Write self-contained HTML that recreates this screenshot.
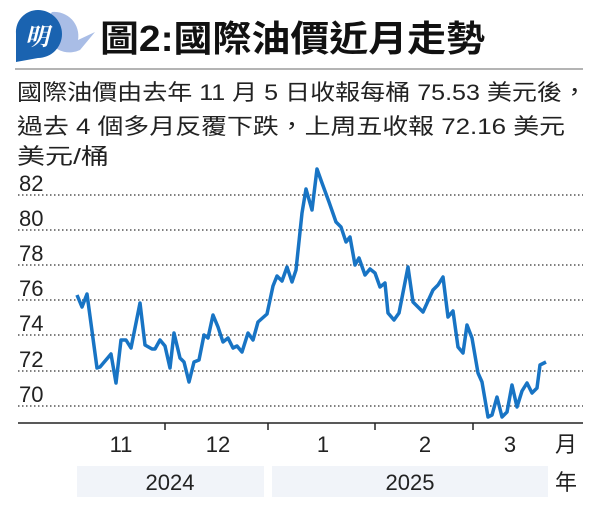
<!DOCTYPE html>
<html><head><meta charset="utf-8"><style>
body{margin:0;background:#fff;width:600px;height:507px;overflow:hidden;font-family:"Liberation Sans","Noto Sans CJK TC",sans-serif;}
</style></head><body>
<svg width="600" height="507" viewBox="0 0 600 507" xmlns="http://www.w3.org/2000/svg" style="position:absolute;left:0;top:0">
<path d="M52 12 A24 24 0 0 1 78 40 L95 32 L80 50 A24 24 0 0 1 52 12Z" fill="#a9bde6"/>
<path d="M38 10 A24 24 0 1 1 38 58 L16 62 L16 34 A22 22 0 0 1 38 10Z" fill="#1a63b0"/>
<text x="37" y="45" font-size="24" font-weight="bold" font-style="italic" fill="#fff" text-anchor="middle" font-family="Noto Serif CJK SC,Noto Sans CJK TC,serif">明</text>
<text x="100" y="51" font-size="36" font-weight="bold" fill="#111" textLength="385" lengthAdjust="spacingAndGlyphs" font-family="Liberation Sans,Noto Sans CJK TC,sans-serif">圖2:國際油價近月走勢</text>
<line x1="15" y1="69" x2="583" y2="69" stroke="#888" stroke-width="1.2"/>
<g font-size="22" fill="#222">
<text x="17" y="100" textLength="570" lengthAdjust="spacingAndGlyphs">國際油價由去年 11 月 5 日收報每桶 75.53 美元後，</text>
<text x="17" y="134" textLength="548" lengthAdjust="spacingAndGlyphs">過去 4 個多月反覆下跌，上周五收報 72.16 美元</text>
<text x="17" y="164" textLength="92" lengthAdjust="spacingAndGlyphs">美元/桶</text>
</g>
<g stroke="#333" stroke-width="1.3" stroke-dasharray="1.5 2.5">
<line x1="18" y1="195" x2="583" y2="195"/><line x1="18" y1="230" x2="583" y2="230"/>
<line x1="18" y1="265" x2="583" y2="265"/><line x1="18" y1="300" x2="583" y2="300"/>
<line x1="18" y1="335" x2="583" y2="335"/><line x1="18" y1="371" x2="583" y2="371"/>
<line x1="18" y1="406" x2="583" y2="406"/>
</g>
<g font-size="22" fill="#222">
<text x="19" y="191">82</text><text x="19" y="226">80</text><text x="19" y="261">78</text>
<text x="19" y="296">76</text><text x="19" y="331">74</text><text x="19" y="367">72</text><text x="19" y="402">70</text>
</g>
<line x1="18" y1="423" x2="583" y2="423" stroke="#222" stroke-width="1.5"/>
<g stroke="#222" stroke-width="1.5"><line x1="165" y1="423" x2="165" y2="430"/><line x1="268" y1="423" x2="268" y2="430"/><line x1="375" y1="423" x2="375" y2="430"/><line x1="473" y1="423" x2="473" y2="430"/></g>
<g font-size="22" fill="#222" text-anchor="middle">
<text x="121" y="452">11</text><text x="218" y="452">12</text><text x="323" y="452">1</text><text x="425" y="452">2</text><text x="510" y="452">3</text><text x="566" y="452">月</text>
</g>
<rect x="77" y="466" width="187" height="31" fill="#f1f4f9"/>
<rect x="272" y="466" width="276" height="31" fill="#f1f4f9"/>
<g font-size="22" fill="#222" text-anchor="middle">
<text x="170" y="490">2024</text><text x="410" y="490">2025</text><text x="566" y="490">年</text>
</g>
<polyline fill="none" stroke="#1874c4" stroke-width="3.5" stroke-linejoin="round" points="77,295 82,307 87,294 97,368 100,367 111,354 116,383 121,340 126,340 131,348 140,303 145,345 152,349 155,349 160,340 165,346 170,368 174,333 180,358 184,362 189,382 194,362 199,360 204,335 208,338 213,315 218,327 223,342 228,338 233,348 237,346 242,352 248,333 253,340 258,322 267,314 273,286 277,276 282,281 287,267 292,282 296,270 302,213 306,189 312,210 317,169 322,183 329,202 336,222 341,227 346,242 350,237 355,265 359,258 365,275 370,269 375,273 380,287 385,283 388,313 394,320 399,313 408,267 413,302 423,312 433,290 438,285 443,277 448,317 453,311 458,347 463,353 467,325 472,338 478,373 482,382 488,417 492,415 497,397 502,417 507,412 512,385 517,407 522,391 527,383 532,393 537,388 540,365 546,362"/>
</svg>
</body></html>
